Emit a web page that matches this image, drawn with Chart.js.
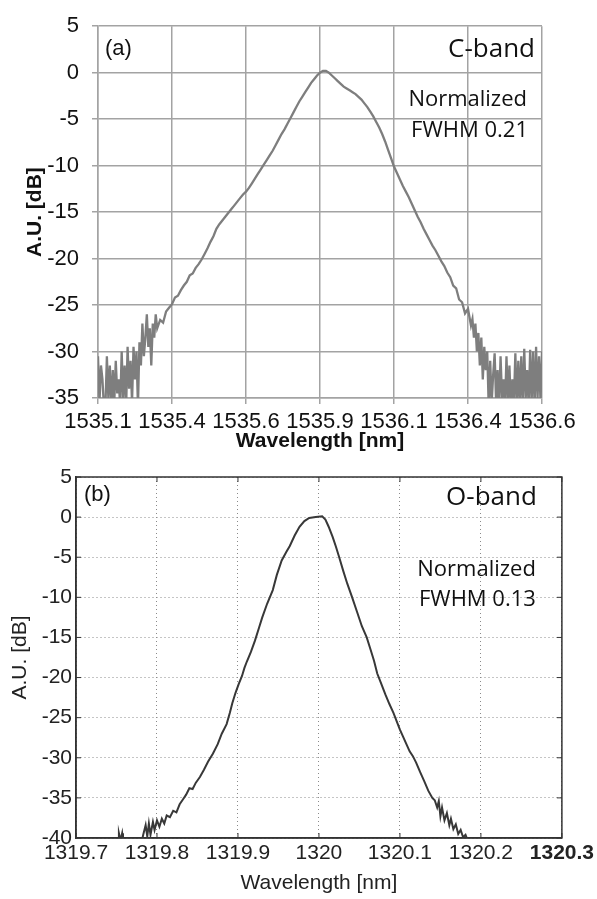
<!DOCTYPE html>
<html>
<head>
<meta charset="utf-8">
<script src="https://cdn.jsdelivr.net/npm/chart.js@4.4.0/dist/chart.umd.min.js"></script>
<style>
  body { margin: 0; background: #fff; }
  #boxA { position: absolute; left: 0; top: 0; }
  #boxB { position: absolute; left: 0; top: 455px; }
</style>
</head>
<body>
<canvas id="boxA" width="597" height="455"></canvas>
<canvas id="boxB" width="597" height="444"></canvas>
<script>
// (a) C-band spectrum
const cWave = [
  1535.100, 1535.105, 1535.110, 1535.115, 1535.120, 1535.125, 1535.130, 1535.135, 1535.140, 1535.145,
  1535.150, 1535.155, 1535.160, 1535.165, 1535.170, 1535.175, 1535.180, 1535.185, 1535.190, 1535.195,
  1535.200, 1535.205, 1535.210, 1535.215, 1535.220, 1535.225, 1535.230, 1535.235, 1535.240, 1535.245,
  1535.250, 1535.255, 1535.260, 1535.265, 1535.270, 1535.275, 1535.280, 1535.285, 1535.290, 1535.295,
  1535.300, 1535.310, 1535.320, 1535.330, 1535.340, 1535.350, 1535.360, 1535.370, 1535.380, 1535.390,
  1535.400, 1535.410, 1535.420, 1535.430, 1535.440, 1535.450, 1535.460, 1535.470, 1535.480, 1535.490,
  1535.500, 1535.510, 1535.520, 1535.530, 1535.540, 1535.550, 1535.560, 1535.570, 1535.580, 1535.590,
  1535.600, 1535.610, 1535.620, 1535.630, 1535.640, 1535.650, 1535.660, 1535.670, 1535.680, 1535.690,
  1535.700, 1535.710, 1535.720, 1535.730, 1535.740, 1535.750, 1535.760, 1535.770, 1535.780, 1535.790,
  1535.800, 1535.810, 1535.820, 1535.830, 1535.840, 1535.850, 1535.860, 1535.870, 1535.880, 1535.890,
  1535.900, 1535.910, 1535.920, 1535.930, 1535.940, 1535.950, 1535.960, 1535.970, 1535.980, 1535.990,
  1536.000, 1536.010, 1536.020, 1536.030, 1536.040, 1536.050, 1536.060, 1536.070, 1536.080, 1536.090,
  1536.100, 1536.110, 1536.120, 1536.130, 1536.140, 1536.150, 1536.160, 1536.170, 1536.180, 1536.190,
  1536.200, 1536.210, 1536.220, 1536.230, 1536.240, 1536.250, 1536.260, 1536.270, 1536.280, 1536.290,
  1536.300, 1536.310, 1536.320, 1536.330, 1536.340, 1536.350, 1536.360, 1536.365, 1536.370, 1536.375,
  1536.380, 1536.385, 1536.390, 1536.395, 1536.400, 1536.405, 1536.410, 1536.415, 1536.420, 1536.425,
  1536.430, 1536.435, 1536.440, 1536.445, 1536.450, 1536.455, 1536.460, 1536.465, 1536.470, 1536.475,
  1536.480, 1536.485, 1536.490, 1536.495, 1536.500, 1536.505, 1536.510, 1536.515, 1536.520, 1536.525,
  1536.530, 1536.535, 1536.540, 1536.545, 1536.550, 1536.555, 1536.560, 1536.565, 1536.570, 1536.575,
  1536.580, 1536.585, 1536.590, 1536.595, 1536.600
];
const cPower = [
  -30.5, -35.5, -31.5, -33.0, -36.0, -36.0, -30.5, -35.0, -31.5, -36.0,
  -32.0, -35.5, -31.0, -34.5, -33.0, -36.0, -30.0, -35.0, -31.5, -36.0,
  -29.5, -34.0, -31.0, -35.5, -29.5, -33.0, -30.0, -36.0, -29.0, -31.5,
  -27.0, -30.5, -28.5, -26.0, -29.5, -27.5, -31.5, -27.0, -28.5, -26.0,
  -27.5, -26.6, -26.9, -25.7, -25.3, -24.9, -24.2, -24.0, -23.4, -22.9,
  -22.5, -21.8, -21.6, -21.0, -20.6, -20.1, -19.5, -18.9, -18.2, -17.6,
  -16.8, -16.3, -15.9, -15.5, -15.1, -14.7, -14.3, -13.9, -13.5, -13.1,
  -12.8, -12.4, -11.9, -11.4, -10.9, -10.4, -9.9, -9.4, -8.9, -8.4,
  -7.8, -7.2, -6.6, -6.1, -5.5, -4.9, -4.3, -3.7, -3.1, -2.6,
  -2.1, -1.6, -1.1, -0.7, -0.3, 0.0, 0.2, 0.2, 0.0, -0.3,
  -0.6, -0.9, -1.2, -1.5, -1.7, -1.9, -2.1, -2.3, -2.6, -2.9,
  -3.3, -3.7, -4.2, -4.7, -5.3, -5.9, -6.6, -7.4, -8.3, -9.2,
  -10.1, -10.8, -11.5, -12.2, -12.8, -13.4, -14.1, -14.8, -15.5, -16.1,
  -16.8, -17.4, -18.0, -18.6, -19.1, -19.7, -20.3, -20.8, -21.5, -22.0,
  -22.9, -23.2, -24.4, -24.7, -25.9, -25.4, -27.2, -26.5, -28.5, -27.0,
  -30.0, -28.0, -31.5, -28.5, -33.0, -29.5, -32.0, -30.0, -36.0, -31.0,
  -35.5, -32.5, -30.2, -35.5, -32.0, -36.0, -30.5, -35.0, -33.0, -36.0,
  -30.5, -35.5, -31.5, -36.0, -33.0, -35.5, -30.2, -36.0, -31.0, -35.5,
  -30.5, -36.0, -29.7, -35.0, -32.0, -36.0, -29.8, -35.5, -30.0, -36.0,
  -29.5, -35.0, -30.5, -35.5, -30.0
];
const cTickValues = [1535.1, 1535.35, 1535.6, 1535.85, 1536.1, 1536.35, 1536.6];
const cTickLabels = ['1535.1', '1535.4', '1535.6', '1535.9', '1536.1', '1536.4', '1536.6'];

// (b) O-band spectrum
const oWave = [
  1319.750, 1319.752, 1319.753, 1319.755, 1319.757, 1319.758, 1319.760, 1319.780, 1319.783, 1319.786,
  1319.788, 1319.790, 1319.792, 1319.795, 1319.797, 1319.800, 1319.803, 1319.806, 1319.809, 1319.812,
  1319.816, 1319.820, 1319.824, 1319.828, 1319.832, 1319.836, 1319.840, 1319.844, 1319.848, 1319.853,
  1319.858, 1319.863, 1319.869, 1319.875, 1319.880, 1319.886, 1319.890, 1319.893, 1319.897, 1319.901,
  1319.905, 1319.908, 1319.911, 1319.916, 1319.921, 1319.926, 1319.930, 1319.936, 1319.943, 1319.948,
  1319.954, 1319.960, 1319.964, 1319.970, 1319.976, 1319.982, 1319.988, 1319.996, 1320.004, 1320.008,
  1320.012, 1320.017, 1320.021, 1320.025, 1320.030, 1320.035, 1320.041, 1320.047, 1320.053, 1320.059,
  1320.064, 1320.068, 1320.072, 1320.077, 1320.082, 1320.087, 1320.092, 1320.097, 1320.100, 1320.104,
  1320.108, 1320.112, 1320.116, 1320.120, 1320.125, 1320.130, 1320.135, 1320.140, 1320.143, 1320.146,
  1320.148, 1320.150, 1320.152, 1320.155, 1320.158, 1320.161, 1320.163, 1320.166, 1320.169, 1320.172,
  1320.175, 1320.178, 1320.181, 1320.184
];
const oPower = [
  -41.0, -40.3, -39.4, -40.3, -39.4, -40.3, -41.0, -41.0, -39.6, -38.4,
  -39.8, -38.2, -39.6, -38.0, -39.0, -37.8, -38.6, -37.6, -38.2, -37.2,
  -37.4, -36.6, -36.8, -35.8, -35.2, -34.6, -33.8, -33.9, -33.1, -32.4,
  -31.5, -30.5, -29.5, -28.3, -27.0, -25.8, -24.4, -23.2, -21.9, -20.8,
  -19.8, -18.8, -18.0, -16.8, -15.4, -13.8, -12.5, -10.8, -9.1, -7.2,
  -5.4, -4.3, -3.6, -2.3, -1.2, -0.5, -0.1, 0.0, 0.1, -0.3,
  -1.2, -2.5, -3.7, -5.0, -6.7, -8.3, -10.0, -11.8, -13.6, -15.0,
  -16.6, -17.9, -19.5, -20.8, -22.1, -23.3, -24.4, -25.7, -26.5, -27.4,
  -28.3, -29.2, -29.8, -30.6, -31.8, -32.9, -34.1, -35.0, -35.3, -36.2,
  -35.4, -37.3, -36.2, -37.8, -36.9, -38.4, -37.6, -38.9, -38.3, -39.5,
  -39.0, -39.9, -39.6, -40.4
];
const oTickValues = [1319.7, 1319.8, 1319.9, 1320.0, 1320.1, 1320.2, 1320.3];
const oTickLabels = ['1319.7', '1319.8', '1319.9', '1320', '1320.1', '1320.2', '1320.3'];

const sans = 'Liberation Sans, Arial, sans-serif';
const noteFont = 'Open Sans, sans-serif';

// corner notes
const notePlugin = {
  id: 'notes',
  afterDraw(chart, args, opts) {
    const ctx = chart.ctx, a = chart.chartArea;
    ctx.save();
    ctx.fillStyle = '#111';
    ctx.textBaseline = 'middle';
    (opts.items || []).forEach(t => {
      ctx.font = t.font;
      ctx.textAlign = t.align;
      const x = t.align === 'left' ? a.left + t.dx : a.right - t.dx;
      ctx.fillText(t.text, x, a.top + t.dy);
    });
    ctx.restore();
  }
};

// solid frame with inward ticks (matlab style)
const framePlugin = {
  id: 'frame',
  afterDatasetsDraw(chart, args, opts) {
    if (!opts.show) return;
    const ctx = chart.ctx, a = chart.chartArea;
    const xs = chart.scales.x, ys = chart.scales.y;
    ctx.save();
    ctx.strokeStyle = opts.color;
    ctx.lineWidth = opts.width;
    ctx.strokeRect(a.left, a.top, a.right - a.left, a.bottom - a.top);
    ctx.lineWidth = 1;
    ctx.beginPath();
    xs.ticks.forEach(t => {
      const p = xs.getPixelForValue(t.value);
      ctx.moveTo(p, a.bottom); ctx.lineTo(p, a.bottom - opts.tick);
      ctx.moveTo(p, a.top); ctx.lineTo(p, a.top + opts.tick);
    });
    ys.ticks.forEach(t => {
      const p = ys.getPixelForValue(t.value);
      ctx.moveTo(a.left, p); ctx.lineTo(a.left + opts.tick, p);
      ctx.moveTo(a.right, p); ctx.lineTo(a.right - opts.tick, p);
    });
    ctx.stroke();
    ctx.restore();
  }
};

const gridA = '#a3a3a3';

new Chart(document.getElementById('boxA'), {
  type: 'line',
  data: {
    datasets: [{
      data: cWave.map((w, i) => ({ x: w, y: cPower[i] })),
      borderColor: '#7e7e7e',
      borderWidth: 2.3,
      pointRadius: 0,
      tension: 0
    }]
  },
  options: {
    responsive: false,
    animation: false,
    layout: { padding: { top: 14, right: 55, bottom: 0, left: 0 } },
    plugins: {
      legend: { display: false },
      tooltip: { enabled: false },
      notes: {
        items: [
          { text: '(a)', align: 'left', dx: 7, dy: 23, font: '22px ' + sans },
          { text: 'C-band', align: 'right', dx: 7, dy: 23, font: '26px ' + noteFont },
          { text: 'Normalized', align: 'right', dx: 15, dy: 74, font: '22px ' + noteFont },
          { text: 'FWHM 0.21', align: 'right', dx: 14, dy: 105, font: '22px ' + noteFont }
        ]
      },
      frame: { show: false }
    },
    scales: {
      x: {
        type: 'linear',
        min: 1535.1,
        max: 1536.6,
        afterBuildTicks: s => { s.ticks = cTickValues.map(v => ({ value: v })); },
        afterFit: s => { s.height = 57; },
        ticks: {
          autoSkip: false,
          maxRotation: 0,
          padding: 5,
          color: '#111',
          font: { family: sans, size: 22 },
          callback: (v, i) => cTickLabels[i]
        },
        grid: { color: gridA, lineWidth: 1.5, tickLength: 6 },
        border: { color: gridA, width: 1.5 },
        title: {
          display: true,
          text: 'Wavelength [nm]',
          color: '#111',
          font: { family: sans, size: 21, weight: 'bold' },
          padding: { top: 0, bottom: 1 }
        }
      },
      y: {
        min: -35,
        max: 5,
        afterFit: s => { s.width = 98; },
        ticks: {
          stepSize: 5,
          padding: 13,
          color: '#111',
          font: { family: sans, size: 22 }
        },
        grid: { color: gridA, lineWidth: 1.5, tickLength: 6 },
        border: { color: gridA, width: 1.5 },
        title: {
          display: true,
          text: 'A.U. [dB]',
          color: '#111',
          font: { family: sans, size: 21, weight: 'bold' },
          padding: { top: 23, bottom: 0 }
        }
      }
    }
  },
  plugins: [notePlugin, framePlugin]
});

new Chart(document.getElementById('boxB'), {
  type: 'line',
  data: {
    datasets: [{
      data: oWave.map((w, i) => ({ x: w, y: oPower[i] })),
      borderColor: '#383838',
      borderWidth: 2,
      pointRadius: 0,
      tension: 0
    }]
  },
  options: {
    responsive: false,
    animation: false,
    layout: { padding: { top: 22, right: 34, bottom: 0, left: 0 } },
    plugins: {
      legend: { display: false },
      tooltip: { enabled: false },
      notes: {
        items: [
          { text: '(b)', align: 'left', dx: 8, dy: 18, font: '22px ' + sans },
          { text: 'O-band', align: 'right', dx: 25, dy: 21, font: '26px ' + noteFont },
          { text: 'Normalized', align: 'right', dx: 26, dy: 93, font: '22px ' + noteFont },
          { text: 'FWHM 0.13', align: 'right', dx: 26, dy: 123, font: '22px ' + noteFont }
        ]
      },
      frame: { show: true, color: '#333', width: 1.5, tick: 5 }
    },
    scales: {
      x: {
        type: 'linear',
        min: 1319.7,
        max: 1320.3,
        afterBuildTicks: s => { s.ticks = oTickValues.map(v => ({ value: v })); },
        afterFit: s => { s.height = 61; },
        ticks: {
          autoSkip: false,
          maxRotation: 0,
          padding: 3,
          color: '#222',
          font: ctx => ({ family: sans, size: 21, weight: ctx.index === oTickLabels.length - 1 ? 'bold' : 'normal' }),
          callback: (v, i) => oTickLabels[i]
        },
        grid: { color: '#8a8a8a', lineWidth: 1, drawTicks: false },
        border: { color: '#333', width: 1.5, dash: [1, 3] },
        title: {
          display: true,
          text: 'Wavelength [nm]',
          color: '#222',
          font: { family: sans, size: 21 },
          padding: { top: 0, bottom: 3 }
        }
      },
      y: {
        min: -40,
        max: 5,
        afterFit: s => { s.width = 76; },
        ticks: {
          stepSize: 5,
          padding: 4,
          color: '#222',
          font: { family: sans, size: 21 }
        },
        grid: { color: '#8a8a8a', lineWidth: 1, drawTicks: false },
        border: { color: '#333', width: 1.5, dash: [1, 3] },
        title: {
          display: true,
          text: 'A.U. [dB]',
          color: '#222',
          font: { family: sans, size: 21 },
          padding: { top: 8, bottom: 0 }
        }
      }
    }
  },
  plugins: [notePlugin, framePlugin]
});
</script>
</body>
</html>
